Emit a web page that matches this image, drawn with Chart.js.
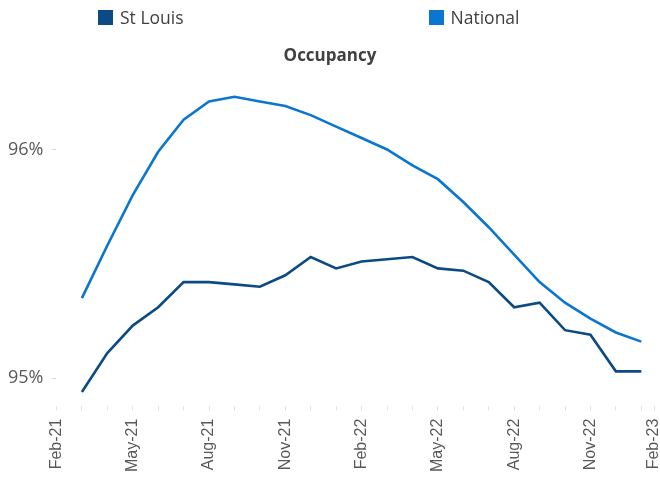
<!DOCTYPE html>
<html>
<head>
<meta charset="utf-8">
<script src="https://cdn.jsdelivr.net/npm/chart.js@4.4.1/dist/chart.umd.min.js"></script>
<style>
    html,body{margin:0;padding:0;background:#fff;}
    #wrap{position:relative;width:660px;height:480px;}
    #legend{position:absolute;left:98px;top:5px;display:flex;gap:245px;font-family:"Open Sans",sans-serif;font-size:17.5px;color:#404040;}
    #legend .item{display:flex;align-items:center;}
    #legend .box{width:15px;height:15px;margin-right:7px;}
</style>
</head>
<body>
<div id="wrap">
    <canvas id="myChart" width="660" height="480"></canvas>
    <div id="legend"></div>
</div>
<script>
    var months = [
        "Feb-21","Mar-21","Apr-21","May-21","Jun-21","Jul-21","Aug-21","Sep-21","Oct-21","Nov-21","Dec-21","Jan-22",
        "Feb-22","Mar-22","Apr-22","May-22","Jun-22","Jul-22","Aug-22","Sep-22","Oct-22","Nov-22","Dec-22","Jan-23","Feb-23"
    ]
    // occupancy in %, no value for the first and last month
    var stLouis = [null,
        94.94,95.11,95.23,95.31,95.42,95.42,95.41,95.40,95.45,95.53,95.48,95.51,
        95.52,95.53,95.48,95.47,95.42,95.31,95.33,95.21,95.19,95.03,95.03,
        null]
    var national = [null,
        95.35,95.58,95.80,95.99,96.13,96.21,96.23,96.21,96.19,96.15,96.10,96.05,
        96.00,95.93,95.87,95.77,95.66,95.54,95.42,95.33,95.26,95.20,95.16,
        null]
    var yTicks = [95, 96]

    var series = [
        {name:"St Louis", values:stLouis, color:"#0b4a84"},
        {name:"National", values:national, color:"#0a76cf"}
    ]

    var lastIdx = months.length - 2
    var xMax = lastIdx + 0.5

    var ctx = document.getElementById("myChart").getContext("2d")
    var chart = new Chart(ctx, {
        type: "line",
        data: {
            datasets: series.map(function(s){
                return {
                    label: s.name,
                    data: s.values.map(function(v,i){ return {x:i, y:v} }),
                    borderColor: s.color,
                    backgroundColor: s.color,
                    borderWidth: 2.6,
                    pointRadius: 0,
                    tension: 0,
                    spanGaps: false
                }
            })
        },
        options: {
            responsive: false,
            animation: false,
            layout: {padding: {top: 46, left: 0, right: 0, bottom: 0}},
            plugins: {
                legend: {display: false},
                tooltip: {enabled: false},
                title: {
                    display: true,
                    text: "Occupancy",
                    color: "#404040",
                    font: {family: "'Open Sans'", size: 17, weight: "bold"},
                    padding: {top: 0, bottom: 19}
                }
            },
            scales: {
                x: {
                    type: "linear",
                    min: 0,
                    max: xMax,
                    afterBuildTicks: function(scale){
                        var t = []
                        for (var i = 0; i <= lastIdx; i++) t.push({value:i})
                        t.push({value:xMax})
                        scale.ticks = t
                    },
                    // let the last label sit near the right edge like the original
                    afterFit: function(scale){
                        scale.paddingRight = 6
                    },
                    ticks: {
                        autoSkip: false,
                        maxRotation: 90,
                        minRotation: 90,
                        padding: 8,
                        color: "#595959",
                        font: {family: "'Liberation Sans'", size: 16},
                        callback: function(v){
                            if (v > lastIdx) return months[months.length-1]
                            return v % 3 === 0 ? months[v] : ""
                        }
                    },
                    grid: {drawOnChartArea: false, tickLength: 5, color: "#e3e3e3"},
                    border: {display: false}
                },
                y: {
                    min: 94.88,
                    max: 96.28,
                    afterBuildTicks: function(scale){
                        scale.ticks = yTicks.map(function(v){ return {value:v} })
                    },
                    ticks: {
                        padding: 8,
                        color: "#595959",
                        font: {family: "'Open Sans'", size: 18},
                        callback: function(v){ return v + "%" }
                    },
                    grid: {drawOnChartArea: false, tickLength: 5, color: "#d9d9d9"},
                    border: {display: false}
                }
            }
        }
    })

    var legend = document.getElementById("legend")
    chart.data.datasets.forEach(function(ds){
        var item = document.createElement("div")
        item.className = "item"
        item.innerHTML = '<span class="box" style="background:' + ds.borderColor + '"></span><span>' + ds.label + '</span>'
        legend.appendChild(item)
    })
</script>
</body>
</html>
